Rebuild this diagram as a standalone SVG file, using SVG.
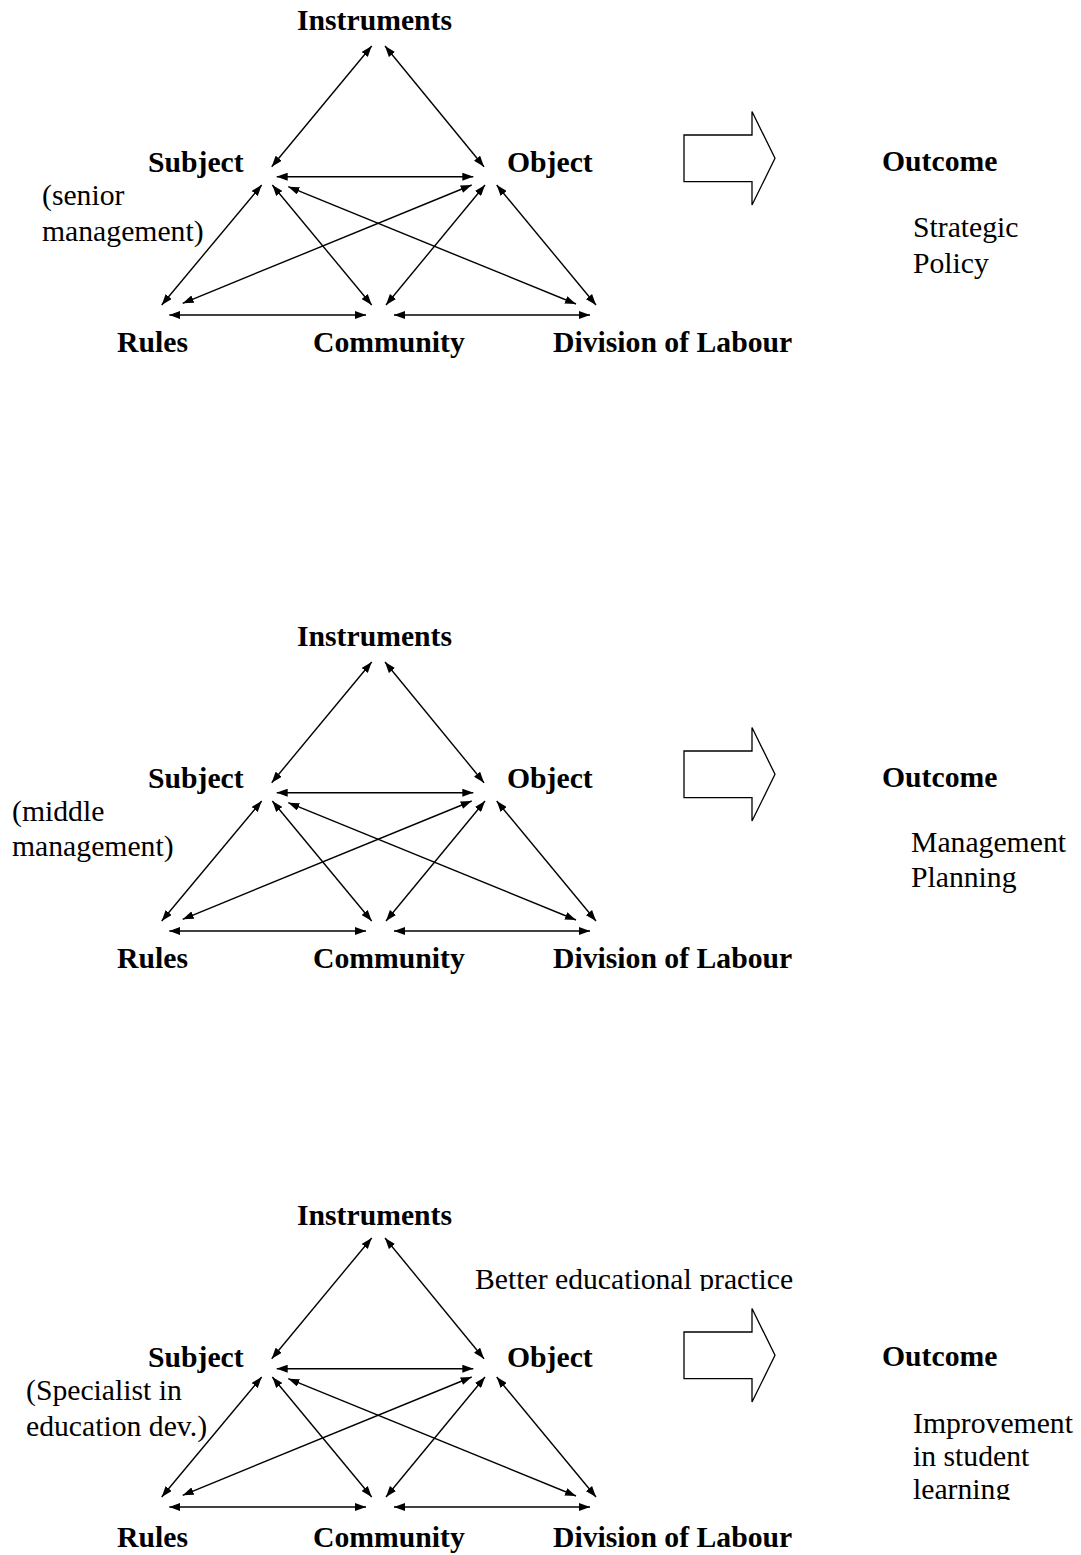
<svg xmlns="http://www.w3.org/2000/svg" xmlns:xlink="http://www.w3.org/1999/xlink" width="1081" height="1555" viewBox="0 0 1081 1555">
  <style>
    .t { font-family: "Liberation Serif", "Times New Roman", serif; font-size: 29.7px; fill: #000; }
    .b { font-weight: bold; }
    .edge { stroke: #000; stroke-width: 1.4; fill: none; marker-start: url(#head); marker-end: url(#head); }
    .block { fill: #fff; stroke: #000; stroke-width: 1.3; stroke-linejoin: miter; }
  </style>
  <defs>
    <marker id="head" viewBox="0 0 11 8" refX="11" refY="4" markerWidth="11" markerHeight="8" markerUnits="userSpaceOnUse" orient="auto-start-reverse">
      <path d="M0,0 L11,4 L0,8 z" fill="#000"/>
    </marker>
    <!-- the eleven two-way links of an activity triangle -->
    <g id="triangle-links">
      <line class="edge" x1="371.7" y1="46" x2="271.7" y2="166.7"/>
      <line class="edge" x1="385" y1="46" x2="484" y2="166.7"/>
      <line class="edge" x1="276.7" y1="176.7" x2="473.3" y2="176.7"/>
      <line class="edge" x1="261.7" y1="185" x2="161.7" y2="305"/>
      <line class="edge" x1="272.3" y1="185" x2="371.7" y2="305"/>
      <line class="edge" x1="288.3" y1="186.7" x2="576" y2="304"/>
      <line class="edge" x1="471.7" y1="185" x2="182.7" y2="303.3"/>
      <line class="edge" x1="485" y1="185" x2="386" y2="305"/>
      <line class="edge" x1="496.7" y1="185" x2="596" y2="305"/>
      <line class="edge" x1="169.3" y1="315" x2="366" y2="315"/>
      <line class="edge" x1="394" y1="315" x2="590" y2="315"/>
    </g>
    <polygon id="block-arrow" class="block" points="684,135 752,135 752,111.5 775,158.3 752,205 752,181.7 684,181.7"/>
    <clipPath id="clip-practice" clipPathUnits="userSpaceOnUse">
      <rect x="460" y="1250" width="400" height="41"/>
    </clipPath>
    <clipPath id="clip-improvement" clipPathUnits="userSpaceOnUse">
      <rect x="900" y="1400" width="181" height="100"/>
    </clipPath>
  </defs>

  <!-- Senior management system -->
  <g id="system-senior">
    <g id="s1-connectors"><use xlink:href="#triangle-links"/></g>
    <g id="s1-instruments"><text class="t b" x="297" y="30">Instruments</text></g>
    <g id="s1-subject"><text class="t b" x="148" y="172">Subject</text>
      <text class="t" x="42" y="205">(senior</text>
      <text class="t" x="42" y="241">management)</text></g>
    <g id="s1-object"><text class="t b" x="507" y="172">Object</text></g>
    <g id="s1-rules"><text class="t b" x="117" y="352">Rules</text></g>
    <g id="s1-community"><text class="t b" x="313" y="352">Community</text></g>
    <g id="s1-division"><text class="t b" x="553" y="352">Division of Labour</text></g>
    <g id="s1-transition"><use xlink:href="#block-arrow"/></g>
    <g id="s1-outcome"><text class="t b" x="882" y="171">Outcome</text>
      <text class="t" x="913" y="237">Strategic</text>
      <text class="t" x="913" y="273">Policy</text></g>
  </g>

  <!-- Middle management system -->
  <g id="system-middle" transform="translate(0,616)">
    <g id="s2-connectors"><use xlink:href="#triangle-links"/></g>
    <g id="s2-instruments"><text class="t b" x="297" y="30">Instruments</text></g>
    <g id="s2-subject"><text class="t b" x="148" y="172">Subject</text>
      <text class="t" x="12" y="205">(middle</text>
      <text class="t" x="12" y="240">management)</text></g>
    <g id="s2-object"><text class="t b" x="507" y="172">Object</text></g>
    <g id="s2-rules"><text class="t b" x="117" y="352">Rules</text></g>
    <g id="s2-community"><text class="t b" x="313" y="352">Community</text></g>
    <g id="s2-division"><text class="t b" x="553" y="352">Division of Labour</text></g>
    <g id="s2-transition"><use xlink:href="#block-arrow"/></g>
    <g id="s2-outcome"><text class="t b" x="882" y="171">Outcome</text>
      <text class="t" x="911" y="236">Management</text>
      <text class="t" x="911" y="271">Planning</text></g>
  </g>

  <!-- Educational development system -->
  <g id="system-specialist" transform="translate(0,1195)">
    <g id="s3-connectors" transform="translate(0,-3)"><use xlink:href="#triangle-links"/></g>
    <g id="s3-instruments"><text class="t b" x="297" y="30">Instruments</text></g>
    <g id="s3-subject"><text class="t b" x="148" y="172">Subject</text>
      <text class="t" x="26" y="205">(Specialist in</text>
      <text class="t" x="26" y="241">education dev.)</text></g>
    <g id="s3-object"><text class="t b" x="507" y="172">Object</text></g>
    <g id="s3-rules"><text class="t b" x="117" y="352">Rules</text></g>
    <g id="s3-community"><text class="t b" x="313" y="352">Community</text></g>
    <g id="s3-division"><text class="t b" x="553" y="352">Division of Labour</text></g>
    <g id="s3-transition" transform="translate(0,2)"><use xlink:href="#block-arrow"/></g>
    <g id="s3-outcome"><text class="t b" x="882" y="171">Outcome</text></g>
  </g>
  <g id="s3-object-note" clip-path="url(#clip-practice)">
    <text class="t" x="475" y="1289">Better educational practice</text>
  </g>
  <g id="s3-outcome-note" clip-path="url(#clip-improvement)">
    <text class="t" x="913" y="1433">Improvement</text>
    <text class="t" x="913" y="1466">in student</text>
    <text class="t" x="913" y="1499">learning</text>
  </g>
</svg>
